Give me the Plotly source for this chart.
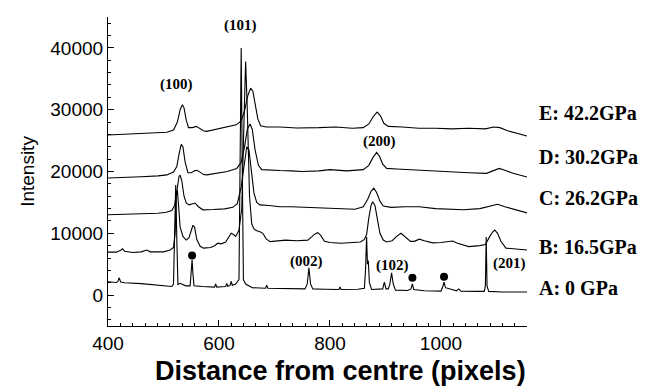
import plotly.graph_objects as go

# ---- data (x = distance from centre in pixels, y = intensity) ----
A_pts = [(400,2150),(415,2050),(418,2200),(420,2800),(423,2100),(430,2000),(460,1850),(500,1500),
         (515,1400),(518,1800),(520,9000),(522,17800),(524,9000),(526,1700),(530,1900),(540,1500),
         (548,1500),(550,3500),(551.5,5700),(553,3500),(555,1500),(570,1400),(592,1300),(594,1800),
         (596,1300),(605,1350),(612,1400),(614,1900),(616,1400),(620,1600),(622,2200),(624,1600),
         (630,1800),(636,2500),(638,20000),(640,40000),(642,20000),(644,2500),(648,1800),(660,1200),
         (684,1100),(686,1600),(688,1100),(720,1050),(755,1000),(759,1800),(762,4400),(765,1800),
         (769,1000),(790,950),(816,900),(818,1300),(820,900),(850,950),(862,1100),(864,4000),
         (866,9400),(867.5,5000),(869,5600),(871,2000),(875,900),(895,1000),(898,2100),(901,1000),
         (905,1000),(908,1800),(911,3600),(914,1800),(918,800),(940,750),(946,1000),(948.5,1800),
         (951,900),(970,700),(1000,650),(1003,1300),(1005.5,2100),(1008,1200),(1028,700),(1032,1000),
         (1036,650),(1070,600),(1078,600),(1080,1500),(1081.5,9400),(1083,1500),(1086,600),
         (1110,500),(1155,500)]

B_pts = [(400,6950),(415,6950),(422,7200),(426,7500),(430,7100),(445,6900),(460,7000),(466,7200),
         (470,7300),(476,7000),(500,7000),(512,7300),(518,7700),(521,10000),(523,16000),(525,17000),
         (527,14000),(530,11000),(535,9500),(541,8900),(546,9300),(550,10300),(553,11300),(556,11000),
         (560,9000),(566,7900),(572,7600),(585,7700),(592,8000),(598,8400),(604,8300),(612,8600),
         (618,9500),(622,10000),(626,9800),(630,9500),(636,10500),(641,14000),(645,28000),(648,37800),
         (651,30000),(655,16000),(659,11500),(663,10700),(668,10400),(673,10300),(679,10000),
         (685,9100),(692,8650),(705,8800),(720,8900),(740,8800),(760,8900),(768,9500),(773,9900),
         (778,10100),(783,9700),(790,8700),(800,8500),(820,8400),(840,8500),(855,8600),(862,9000),
         (866,9800),(870,12500),(874,14500),(877,15100),(881,14500),(885,12500),(890,10000),
         (896,8900),(902,8600),(912,8800),(920,9500),(928,10000),(936,9400),(945,8700),(952,8700),
         (961,9050),(970,8800),(985,8450),(1000,8500),(1012,8700),(1021,8750),(1030,8400),
         (1050,7850),(1070,8000),(1080,8200),(1088,9500),(1093,10200),(1097,10530),(1102,10000),
         (1108,8700),(1117,7600),(1130,7500),(1155,7300)]

C_pts = [(400,13000),(430,13050),(460,13100),(490,13250),(505,13400),(515,13700),(520,14500),
         (524,17000),(528,19200),(530,19400),(533,18500),(537,16000),(541,14900),(546,14600),
         (552,14800),(557,14900),(563,14300),(571,13800),(590,13850),(610,13950),(625,14200),
         (633,14800),(640,17500),(646,22000),(650,24000),(654,23500),(658,20000),(663,16500),
         (668,15000),(674,14600),(690,14500),(710,14300),(730,14300),(760,14200),(790,14000),
         (820,14000),(845,13900),(860,14300),(868,15500),(874,16800),(879,17300),(884,16600),
         (890,15200),(896,14400),(910,14200),(935,14300),(961,14300),(990,14000),(1020,13900),
         (1040,13800),(1070,14000),(1090,14500),(1102,14700),(1115,14300),(1135,13800),(1155,13300)]

D_pts = [(400,18950),(430,19000),(460,19150),(490,19300),(506,19450),(518,19900),(524,20800),
         (528,22800),(532,24400),(535,24000),(539,21500),(544,19800),(550,19800),(556,20100),
         (560,20200),(566,19900),(572,19500),(578,19450),(595,19700),(615,20000),(632,20500),
         (640,21500),(646,24000),(651,26800),(656,27700),(660,26800),(665,23500),(671,21000),
         (677,20300),(690,20200),(710,20150),(730,20100),(750,20000),(780,20100),(800,20300),
         (830,20100),(860,20300),(870,21000),(877,22200),(884,23100),(889,22500),(895,21200),
         (902,20500),(920,20400),(940,20300),(961,20250),(990,20000),(1020,19900),(1050,19800),
         (1082,19700),(1095,20200),(1105,20500),(1115,20200),(1130,19700),(1155,19100)]

E_pts = [(400,25900),(430,26000),(460,26100),(490,26250),(506,26350),(518,26700),(525,28000),
         (530,30000),(534,30800),(537,30300),(541,28300),(545,27100),(552,27100),(559,27300),
         (565,27000),(572,26600),(578,26500),(595,26800),(615,27200),(631,27550),(640,28200),
         (646,29800),(652,32300),(657,33500),(661,33000),(665,31000),(670,28500),(675,27400),
         (685,27200),(710,27200),(740,27050),(780,27100),(810,27200),(840,27000),(860,27100),
         (870,27700),(878,28900),(885,29600),(891,29000),(897,27800),(905,27300),(930,27200),
         (960,27000),(990,27000),(1020,26900),(1050,27000),(1080,26900),(1095,27200),(1106,27100),
         (1120,26600),(1140,26100),(1155,25750)]

dot_x = [551.5, 948.5, 1005.5]
dot_y = [6400, 2800, 2970]

peak_labels = ["(100)", "(101)", "(200)", "(002)", "(102)", "(201)"]
peak_label_x = [523, 638, 890, 757, 912, 1124]
peak_label_y = [34100, 43600, 24850, 5500, 4860, 5130]

curve_labels = ["E: 42.2GPa", "D: 30.2GPa", "C: 26.2GPa", "B: 16.5GPa", "A: 0 GPa"]
curve_label_y = [29430, 22400, 15660, 7820, 1180]

x_ticks = [400, 600, 800, 1000]
y_ticks = [0, 10000, 20000, 30000, 40000]

fig = go.Figure()
for pts in [A_pts, B_pts, C_pts, D_pts, E_pts]:
    xs, ys = zip(*pts)
    fig.add_trace(go.Scatter(x=list(xs), y=list(ys), mode="lines",
                             line=dict(color="black", width=1.1), showlegend=False,
                             hoverinfo="skip"))
fig.add_trace(go.Scatter(x=dot_x, y=dot_y, mode="markers",
                         marker=dict(color="black", size=8), showlegend=False))

serif = "Liberation Serif"
sans = "Liberation Sans"
for t, x, y in zip(peak_labels, peak_label_x, peak_label_y):
    fig.add_annotation(x=x, y=y, xref="x", yref="y", text="<b>%s</b>" % t, showarrow=False,
                       font=dict(family=serif, size=15, color="black"))
for t, y in zip(curve_labels, curve_label_y):
    fig.add_annotation(x=1.024, y=y, xref="paper", yref="y", text="<b>%s</b>" % t,
                       showarrow=False, xanchor="left",
                       font=dict(family=serif, size=20, color="black"))

# x-axis title (placed as annotation so it can be centred where the original is)
fig.add_annotation(x=0.554, y=-0.147, xref="paper", yref="paper", yanchor="middle",
                   text="<b>Distance from centre (pixels)</b>", showarrow=False,
                   font=dict(family=sans, size=27, color="black"))

# page body has an 8px margin, so the figure is sized/margined to land where the original sits
fig.update_layout(
    width=641, height=380,
    margin=dict(l=100, r=122, t=9, b=62),
    plot_bgcolor="white", paper_bgcolor="white",
    font=dict(family=sans, color="black"),
    xaxis=dict(range=[400, 1155], tickvals=x_ticks, ticks="inside", ticklen=6, tickwidth=1,
               tickcolor="black", showline=True, linecolor="black", linewidth=1.2,
               showgrid=False, zeroline=False, tickfont=dict(size=19, family=sans),
               minor=dict(tick0=400, dtick=200/9, ticks="inside", ticklen=3, tickcolor="black")),
    yaxis=dict(range=[-5000, 45000], tickvals=y_ticks, tickformat="d", ticks="inside",
               ticklen=6, tickwidth=1, tickcolor="black", showline=True, linecolor="black",
               linewidth=1.2, showgrid=False, zeroline=False,
               tickfont=dict(size=19, family=sans),
               minor=dict(tick0=0, dtick=2000, ticks="inside", ticklen=3, tickcolor="black"),
               title=dict(text="Intensity", font=dict(size=19, family=sans), standoff=10)),
)

fig.write_html("out.html")
